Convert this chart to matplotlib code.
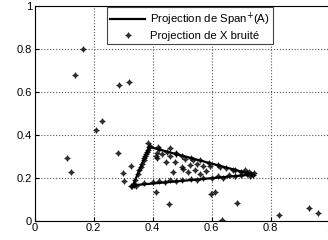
import matplotlib.pyplot as plt

plt.rcParams["font.family"] = ["Liberation Sans", "DejaVu Sans"]

# Sommets de la projection de Span+(A)
span_x = [0.333, 0.388, 0.738, 0.333]
span_y = [0.164, 0.343, 0.214, 0.164]

# Projection de X bruite : points isoles
out_x = [0.108, 0.123, 0.163, 0.137, 0.207, 0.227, 0.284, 0.318, 0.283, 0.326, 0.300, 0.303,
         0.411, 0.456, 0.597, 0.612, 0.634, 0.687, 0.828, 0.929, 0.962]
out_y = [0.289, 0.227, 0.796, 0.677, 0.421, 0.464, 0.630, 0.643, 0.312, 0.253, 0.220, 0.185,
         0.131, 0.075, 0.123, 0.131, 0.002, 0.080, 0.026, 0.060, 0.033]

# points sur les aretes et sommets
edge_x = [0.325, 0.330, 0.338, 0.335, 0.342, 0.340, 0.350, 0.355, 0.360, 0.365, 0.370, 0.372,
          0.375, 0.378, 0.380, 0.383, 0.386, 0.390,
          0.370, 0.400, 0.420, 0.440, 0.460, 0.480, 0.500, 0.530, 0.550, 0.570, 0.600, 0.620,
          0.640, 0.660, 0.680, 0.700, 0.720,
          0.420, 0.450, 0.480, 0.500, 0.530, 0.560, 0.590, 0.620, 0.650, 0.680, 0.700, 0.720,
          0.735, 0.740, 0.730, 0.745, 0.725]
edge_y = [0.163, 0.160, 0.165, 0.170, 0.162, 0.190, 0.215, 0.235, 0.250, 0.265, 0.280, 0.290,
          0.300, 0.310, 0.320, 0.330, 0.340, 0.345,
          0.175, 0.180, 0.185, 0.180, 0.190, 0.185, 0.190, 0.195, 0.190, 0.200, 0.200, 0.205,
          0.200, 0.210, 0.205, 0.210, 0.215,
          0.331, 0.320, 0.309, 0.302, 0.291, 0.280, 0.269, 0.257, 0.246, 0.235, 0.228, 0.221,
          0.215, 0.210, 0.205, 0.220, 0.225]

# points a l'interieur du triangle
in_x = [0.384, 0.419, 0.459, 0.480, 0.410, 0.415, 0.430, 0.445, 0.476, 0.470, 0.498, 0.509,
        0.537, 0.526, 0.543, 0.571, 0.503, 0.580, 0.594, 0.628, 0.673, 0.713, 0.413, 0.460,
        0.550, 0.520, 0.560]
in_y = [0.359, 0.343, 0.336, 0.312, 0.300, 0.290, 0.310, 0.273, 0.270, 0.227, 0.250, 0.284,
        0.281, 0.258, 0.234, 0.253, 0.242, 0.230, 0.254, 0.247, 0.234, 0.234, 0.313, 0.300,
        0.265, 0.225, 0.215]

fig = plt.figure(figsize=(3.28, 2.40), dpi=100)
ax = fig.add_axes([0.106, 0.081, 0.899, 0.896])

ax.plot(span_x, span_y, color="black", linewidth=1.6, label="Projection de Span$^{+}$(A)")
pts_x = out_x + edge_x + in_x
pts_y = out_y + edge_y + in_y
ax.plot(pts_x, pts_y, linestyle="none", marker=(4, 1, 0), markersize=4.2, color="black",
        markeredgewidth=0.5, alpha=0.8, label="Projection de X bruité")

ax.set_xlim(0, 1)
ax.set_ylim(0, 1)
ticks = [0, 0.2, 0.4, 0.6, 0.8, 1]
labels = ["0", "0.2", "0.4", "0.6", "0.8", "1"]
ax.set_xticks(ticks)
ax.set_xticklabels(labels)
ax.set_yticks(ticks)
ax.set_yticklabels(labels)
ax.tick_params(direction="in", length=3, labelsize=8, pad=2)
ax.grid(True, linestyle=":", color="#555555", linewidth=0.8)
for s in ax.spines.values():
    s.set_linewidth(0.8)

leg = ax.legend(loc="upper left", bbox_to_anchor=(0.245, 0.993), borderaxespad=0, fontsize=8.2,
                fancybox=False, framealpha=1, edgecolor="#444444", handlelength=3.0,
                borderpad=0.3, labelspacing=0.25, handletextpad=0.5)
leg.get_frame().set_linewidth(0.8)

fig.savefig("out.png", dpi=100)
